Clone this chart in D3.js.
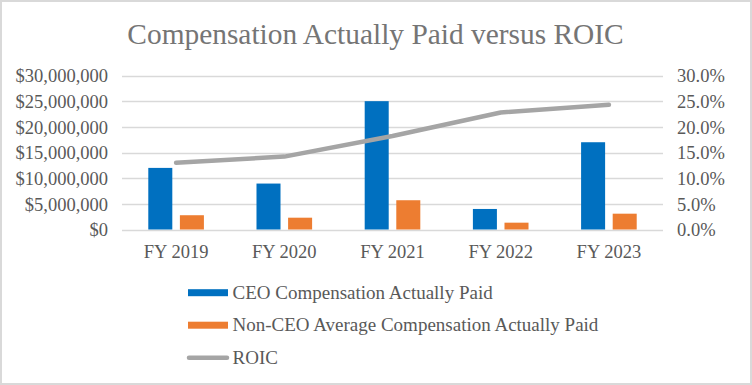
<!DOCTYPE html>
<html>
<head>
<meta charset="utf-8">
<script src="https://cdn.jsdelivr.net/npm/d3@7"></script>
<style>
  body { margin: 0; background: #fff; }
  text { font-family: "Liberation Serif", "Times New Roman", serif; }
</style>
</head>
<body>
<script>
var years = ["FY 2019", "FY 2020", "FY 2021", "FY 2022", "FY 2023"];
var ceoPaid = [12000000, 8950000, 25000000, 4000000, 17000000];
var nonCeoPaid = [2780000, 2300000, 5700000, 1330000, 3080000];
var roic = [0.130, 0.142, 0.182, 0.228, 0.243];
var leftTicks = [0, 5000000, 10000000, 15000000, 20000000, 25000000, 30000000];
var rightTicks = [0, 0.05, 0.10, 0.15, 0.20, 0.25, 0.30];
var seriesNames = ["CEO Compensation Actually Paid", "Non-CEO Average Compensation Actually Paid", "ROIC"];

var W = 752, H = 385;
var colors = ["#0070C0", "#ED7D31", "#A5A5A5"];

var svg = d3.select("body").append("svg")
  .attr("width", W)
  .attr("height", H);

// outer border
svg.append("rect")
  .attr("x", 1).attr("y", 1)
  .attr("width", W - 2).attr("height", H - 2)
  .attr("fill", "#fff")
  .attr("stroke", "#D9D9D9")
  .attr("stroke-width", 2);

var plotLeft = 122, plotRight = 663, plotTop = 75.5, plotBottom = 229.5;

var x0 = d3.scaleBand()
  .domain(years)
  .range([plotLeft, plotRight])
  .paddingInner(0.486)
  .paddingOuter(0.243);

var x1 = d3.scaleBand()
  .domain([0, 1])
  .range([0, x0.bandwidth()])
  .paddingInner(0.24);

var y = d3.scaleLinear().domain([0, 30000000]).range([plotBottom, plotTop]);
var y2 = d3.scaleLinear().domain([0, 0.30]).range([plotBottom, plotTop]);

// title
svg.append("text")
  .attr("x", 375.5)
  .attr("y", 43.5)
  .attr("text-anchor", "middle")
  .attr("fill", "#757575")
  .style("font-size", "29.4px")
  .text("Compensation Actually Paid versus ROIC");

// gridlines
svg.append("g").selectAll("line")
  .data(leftTicks)
  .enter().append("line")
  .attr("x1", plotLeft).attr("x2", plotRight)
  .attr("y1", function(d) { return Math.round(y(d)) + 0.5; })
  .attr("y2", function(d) { return Math.round(y(d)) + 0.5; })
  .attr("stroke", "#D9D9D9")
  .attr("stroke-width", 1.5);

// left axis
var fmtMoney = d3.format("$,.0f");
var yAxis = svg.append("g")
  .attr("transform", "translate(" + (plotLeft - 14) + ",0)")
  .call(d3.axisLeft(y).tickValues(leftTicks).tickSize(0).tickPadding(0).tickFormat(fmtMoney));
yAxis.select(".domain").remove();
yAxis.selectAll("text")
  .attr("fill", "#595959")
  .attr("dy", "0.34em")
  .style("font-size", "18.5px");

// right axis
var yAxis2 = svg.append("g")
  .attr("transform", "translate(" + (plotRight + 14) + ",0)")
  .call(d3.axisRight(y2).tickValues(rightTicks).tickSize(0).tickPadding(0).tickFormat(d3.format(".1%")));
yAxis2.select(".domain").remove();
yAxis2.selectAll("text")
  .attr("fill", "#595959")
  .attr("dy", "0.34em")
  .style("font-size", "18.5px");

// x axis labels
svg.append("g").selectAll("text")
  .data(years)
  .enter().append("text")
  .attr("x", function(d) { return x0(d) + x0.bandwidth() / 2; })
  .attr("y", 258.3)
  .attr("text-anchor", "middle")
  .attr("fill", "#595959")
  .style("font-size", "18.5px")
  .text(function(d) { return d; });

// bars
var groups = svg.append("g").selectAll("g")
  .data(years)
  .enter().append("g")
  .attr("transform", function(d) { return "translate(" + x0(d) + ",0)"; });

groups.selectAll("rect")
  .data(function(d, i) { return [ceoPaid[i], nonCeoPaid[i]]; })
  .enter().append("rect")
  .attr("x", function(d, j) { return x1(j); })
  .attr("y", function(d) { return y(d); })
  .attr("width", x1.bandwidth())
  .attr("height", function(d) { return plotBottom - y(d); })
  .attr("fill", function(d, j) { return colors[j]; });

// ROIC line
var line = d3.line()
  .x(function(d, i) { return x0(years[i]) + x0.bandwidth() / 2; })
  .y(function(d) { return y2(d); });

svg.append("path")
  .datum(roic)
  .attr("d", line)
  .attr("fill", "none")
  .attr("stroke", colors[2])
  .attr("stroke-width", 4.5)
  .attr("stroke-linecap", "round")
  .attr("stroke-linejoin", "round");

// legend
var legend = svg.append("g").selectAll("g")
  .data(seriesNames)
  .enter().append("g")
  .attr("transform", function(d, i) { return "translate(188," + (292.7 + i * 32.5) + ")"; });

legend.each(function(d, i) {
  var g = d3.select(this);
  if (i < 2) {
    g.append("rect")
      .attr("x", 0).attr("y", -3.5)
      .attr("width", 40).attr("height", 7)
      .attr("fill", colors[i]);
  } else {
    g.append("line")
      .attr("x1", 1).attr("x2", 39)
      .attr("y1", 0).attr("y2", 0)
      .attr("stroke", colors[i])
      .attr("stroke-width", 4.5)
      .attr("stroke-linecap", "round");
  }
  g.append("text")
    .attr("x", 44.5)
    .attr("y", 6)
    .attr("fill", "#595959")
    .style("font-size", "19px")
    .text(d);
});
</script>
</body>
</html>
